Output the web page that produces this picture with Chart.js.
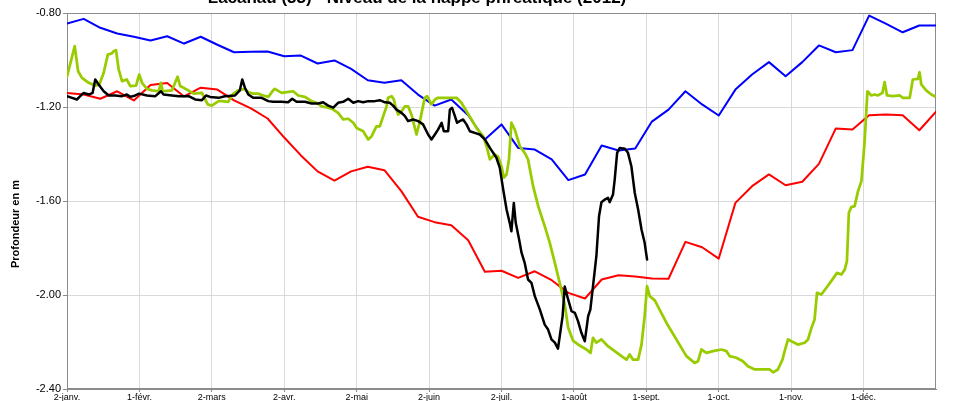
<!DOCTYPE html>
<html>
<head>
<meta charset="utf-8">
<script src="https://cdn.jsdelivr.net/npm/chart.js@4.4.1/dist/chart.umd.min.js"></script>
<style>
  html, body { margin: 0; padding: 0; background: #ffffff; }
  #wrap { width: 954px; height: 401px; position: relative; }
</style>
</head>
<body>
<div id="wrap"><canvas id="c" width="954" height="401"></canvas></div>
<script>
// ---- tick labels (one every 30 days on a day axis) ----
const tickLabels = ["2-janv.", "1-févr.", "2-mars", "2-avr.", "2-mai", "2-juin", "2-juil.", "1-août", "1-sept.", "1-oct.", "1-nov.", "1-déc."];
const yTitle = "Profondeur en m";
const chartTitle = "Lacanau (33) - Niveau de la nappe phréatique (2012)";

// ---- weekly series (blue = highest, red = lowest) ----
const weekDays = [0,6.9,13.8,20.8,27.7,34.6,41.5,48.5,55.4,62.3,69.2,76.2,83.1,90,96.9,103.8,110.8,117.7,124.6,131.5,138.5,145.4,152.3,159.2,166.2,173.1,180,186.9,193.8,200.8,207.7,214.6,221.5,228.5,235.4,242.3,249.2,256.2,263.1,270,276.9,283.8,290.8,297.7,304.6,311.5,318.5,325.4,332.3,339.2,346.2,353.1,360];
const blueValues = [-0.845,-0.825,-0.863,-0.887,-0.901,-0.917,-0.899,-0.930,-0.901,-0.935,-0.967,-0.965,-0.964,-0.984,-0.981,-1.015,-1.002,-1.038,-1.086,-1.097,-1.086,-1.147,-1.194,-1.168,-1.235,-1.338,-1.274,-1.374,-1.381,-1.423,-1.511,-1.487,-1.364,-1.385,-1.377,-1.262,-1.211,-1.133,-1.189,-1.236,-1.126,-1.062,-1.009,-1.069,-1.009,-0.938,-0.967,-0.958,-0.811,-0.845,-0.882,-0.853,-0.853];
const redValues = [-1.140,-1.147,-1.165,-1.133,-1.172,-1.106,-1.098,-1.155,-1.118,-1.126,-1.172,-1.206,-1.249,-1.330,-1.406,-1.474,-1.513,-1.474,-1.454,-1.469,-1.558,-1.667,-1.690,-1.703,-1.767,-1.901,-1.897,-1.927,-1.899,-1.937,-1.991,-2.015,-1.934,-1.916,-1.921,-1.930,-1.931,-1.774,-1.797,-1.845,-1.608,-1.537,-1.487,-1.533,-1.518,-1.442,-1.291,-1.296,-1.235,-1.232,-1.235,-1.299,-1.220];

// ---- green series (daily, sampled) ----
const greenDays = [0.0,3.2,4.6,6.2,9.0,11.7,13.4,15.2,16.9,18.6,19.3,20.3,21.4,22.8,24.8,26.2,28.6,29.9,31.1,33.1,35.2,38.0,38.9,39.6,43.5,45.8,46.9,49.7,52.5,55.9,58.3,60.0,62.8,64.1,66.8,68.9,70.9,73.7,75.1,77.1,79.2,81.3,83.4,85.4,86.1,88.9,91.0,93.7,95.8,98.6,101.3,103.4,105.5,108.2,110.3,112.3,114.4,116.5,118.6,120.0,122.7,124.8,126.2,127.5,128.2,129.6,131.0,132.4,133.0,134.5,135.4,136.2,137.2,138.6,140.0,141.3,142.7,144.1,144.8,146.2,146.9,148.2,149.2,151.0,152.4,153.7,161.4,163.4,165.5,167.6,169.6,172.4,173.8,175.2,177.2,178.6,180.0,181.0,182.1,183.1,184.1,185.5,187.6,189.6,191.0,193.1,195.2,197.9,200.0,202.1,204.1,206.2,207.6,209.6,212.4,215.2,216.9,217.9,219.3,221.4,224.1,226.9,229.7,231.8,233.1,234.5,236.6,238.0,239.3,240.3,241.4,243.5,245.5,248.3,256.6,260.0,261.4,262.8,264.9,267.6,271.1,273.2,274.5,277.3,280.0,282.1,284.9,291.1,292.5,294.5,296.4,297.3,298.7,300.1,302.8,305.6,307.0,308.4,309.7,310.7,312.5,314.6,316.6,319.0,320.8,322.2,323.1,323.9,324.9,326.3,327.7,329.1,330.4,331.6,333.2,334.6,335.9,337.8,338.7,339.7,342.2,344.9,346.3,349.1,350.4,352.5,353.2,353.9,356.0,358.1,359.4];
const greenValues = [-1.071,-0.941,-1.048,-1.076,-1.097,-1.109,-1.104,-1.054,-0.977,-0.972,-0.963,-0.958,-1.040,-1.090,-1.083,-1.111,-1.109,-1.062,-1.097,-1.123,-1.129,-1.133,-1.097,-1.133,-1.129,-1.071,-1.111,-1.126,-1.143,-1.140,-1.189,-1.194,-1.175,-1.175,-1.178,-1.143,-1.129,-1.123,-1.137,-1.143,-1.143,-1.151,-1.157,-1.129,-1.123,-1.140,-1.137,-1.133,-1.151,-1.157,-1.175,-1.182,-1.197,-1.203,-1.211,-1.225,-1.253,-1.250,-1.267,-1.289,-1.303,-1.338,-1.324,-1.296,-1.282,-1.282,-1.239,-1.197,-1.161,-1.154,-1.168,-1.203,-1.232,-1.218,-1.197,-1.197,-1.232,-1.289,-1.317,-1.260,-1.225,-1.161,-1.154,-1.189,-1.168,-1.161,-1.161,-1.182,-1.218,-1.253,-1.289,-1.324,-1.367,-1.423,-1.402,-1.411,-1.452,-1.501,-1.487,-1.423,-1.267,-1.296,-1.367,-1.395,-1.423,-1.537,-1.622,-1.707,-1.778,-1.863,-1.948,-2.040,-2.138,-2.194,-2.215,-2.232,-2.246,-2.182,-2.203,-2.189,-2.218,-2.239,-2.260,-2.275,-2.253,-2.275,-2.275,-2.211,-2.090,-1.962,-2.005,-2.023,-2.062,-2.118,-2.260,-2.289,-2.282,-2.232,-2.246,-2.239,-2.232,-2.239,-2.260,-2.267,-2.282,-2.303,-2.317,-2.317,-2.329,-2.317,-2.275,-2.239,-2.189,-2.197,-2.211,-2.203,-2.189,-2.140,-2.104,-1.991,-1.998,-1.969,-1.941,-1.906,-1.913,-1.892,-1.856,-1.650,-1.626,-1.622,-1.558,-1.516,-1.352,-1.133,-1.151,-1.147,-1.151,-1.140,-1.094,-1.151,-1.154,-1.151,-1.161,-1.161,-1.083,-1.080,-1.052,-1.104,-1.130,-1.147,-1.154];

// ---- black series (current year, daily, sampled) ----
const blackDays = [0.0,2.1,4.1,5.5,6.9,9.0,10.6,11.7,13.1,15.2,17.3,20.0,22.8,24.8,26.2,28.3,29.9,33.1,36.6,38.9,40.0,43.5,46.3,50.4,53.1,55.9,57.6,59.3,62.8,65.4,69.6,71.6,72.6,73.7,75.1,77.1,80.6,83.4,85.4,88.9,91.6,93.3,95.1,98.6,101.3,104.1,106.1,108.2,110.3,112.3,114.4,116.5,118.6,120.6,122.7,124.8,127.5,129.6,131.7,133.7,135.1,136.5,138.6,140.0,141.3,143.4,145.5,147.5,149.6,151.0,152.4,153.7,155.2,156.1,157.9,158.6,159.5,160.7,161.6,162.7,164.1,165.5,166.9,168.9,171.0,173.1,175.2,177.9,179.3,180.7,182.1,183.4,184.1,185.1,185.9,187.3,188.3,189.6,191.0,192.4,193.8,195.9,197.9,199.3,200.7,202.1,203.4,205.3,206.2,207.6,209.0,210.4,211.7,213.1,214.5,215.9,216.8,217.9,219.3,220.4,221.4,222.8,224.1,224.8,226.2,226.9,227.9,229.0,231.1,232.4,233.8,235.2,236.6,238.0,239.3,240.3];
const blackValues = [-1.154,-1.161,-1.168,-1.154,-1.140,-1.147,-1.140,-1.083,-1.104,-1.133,-1.151,-1.151,-1.154,-1.147,-1.157,-1.151,-1.143,-1.151,-1.154,-1.133,-1.147,-1.151,-1.154,-1.154,-1.168,-1.171,-1.151,-1.157,-1.161,-1.154,-1.151,-1.129,-1.083,-1.118,-1.147,-1.161,-1.161,-1.175,-1.178,-1.178,-1.180,-1.165,-1.178,-1.178,-1.185,-1.185,-1.180,-1.194,-1.203,-1.182,-1.178,-1.165,-1.182,-1.175,-1.180,-1.175,-1.175,-1.171,-1.180,-1.182,-1.194,-1.211,-1.225,-1.239,-1.260,-1.253,-1.260,-1.274,-1.317,-1.338,-1.317,-1.296,-1.267,-1.303,-1.303,-1.211,-1.203,-1.239,-1.267,-1.260,-1.253,-1.274,-1.303,-1.310,-1.317,-1.338,-1.374,-1.416,-1.459,-1.551,-1.636,-1.693,-1.729,-1.608,-1.693,-1.764,-1.820,-1.863,-1.934,-1.948,-2.005,-2.062,-2.126,-2.147,-2.189,-2.203,-2.228,-2.091,-1.964,-2.019,-2.069,-2.076,-2.111,-2.161,-2.197,-2.090,-2.062,-1.963,-1.835,-1.665,-1.605,-1.594,-1.586,-1.605,-1.572,-1.509,-1.395,-1.374,-1.378,-1.395,-1.452,-1.565,-1.636,-1.721,-1.778,-1.849];

function pts(xs, ys) {
  const n = Math.min(xs.length, ys.length);
  const out = [];
  for (let i = 0; i < n; i++) out.push({ x: xs[i], y: ys[i] });
  return out;
}

const frame = {
  id: 'frame',
  beforeDatasetsDraw(chart) {
    const a = chart.chartArea, ctx = chart.ctx;
    ctx.save();
    ctx.strokeStyle = '#8c8c8c';
    ctx.lineWidth = 1;
    ctx.strokeRect(Math.round(a.left) + 0.5, Math.round(a.top) + 0.5, Math.round(a.right - a.left) - 1, Math.round(a.bottom - a.top) - 1);
    ctx.restore();
  },
  afterDraw(chart) {
    const ctx = chart.ctx;
    ctx.save();
    ctx.fillStyle = '#000';
    ctx.font = 'bold 17px "Liberation Sans", Arial, sans-serif';
    ctx.textAlign = 'center';
    ctx.textBaseline = 'alphabetic';
    ctx.fillText(chartTitle, 417, 3);
    ctx.translate(16, 224);
    ctx.rotate(-Math.PI / 2);
    ctx.font = 'bold 11px "Liberation Sans Narrow", "Liberation Sans", Arial, sans-serif';
    ctx.textBaseline = 'middle';
    ctx.fillText(yTitle, 0, 0);
    ctx.restore();
  }
};

const common = { pointRadius: 0, tension: 0, fill: false, borderCapStyle: 'round', borderJoinStyle: 'round' };

new Chart(document.getElementById('c'), {
  type: 'line',
  data: {
    datasets: [
      Object.assign({ label: 'courant', data: pts(blackDays, blackValues), borderColor: '#000000', borderWidth: 2.5, order: 0 }, common),
      Object.assign({ label: 'vert', data: pts(greenDays, greenValues), borderColor: '#99CC00', borderWidth: 2.75, order: 1 }, common),
      Object.assign({ label: 'min', data: pts(weekDays, redValues), borderColor: '#FF0000', borderWidth: 2, order: 2 }, common),
      Object.assign({ label: 'max', data: pts(weekDays, blueValues), borderColor: '#0000FF', borderWidth: 2, order: 3 }, common)
    ]
  },
  options: {
    responsive: false,
    animation: false,
    devicePixelRatio: 1,
    layout: { padding: { top: 13, right: 18, left: 0, bottom: 0 } },
    plugins: { legend: { display: false }, tooltip: { enabled: false }, title: { display: false } },
    scales: {
      x: {
        type: 'linear',
        min: 0,
        max: 360,
        afterFit(s) { s.height = 12; },
        afterBuildTicks(s) { s.ticks = tickLabels.map((_, i) => ({ value: i * 30 })); },
        ticks: {
          autoSkip: false,
          maxRotation: 0,
          padding: 0,
          color: '#000',
          font: { family: '"Liberation Sans", Arial, sans-serif', size: 9 },
          callback(v) { const i = Math.round(v / 30); return tickLabels[i] || ''; }
        },
        grid: { color: '#d9d9d9', lineWidth: 1, tickLength: 3, tickColor: '#8c8c8c', drawTicks: true },
        border: { display: true, color: '#8c8c8c', width: 1 }
      },
      y: {
        min: -2.4,
        max: -0.8,
        afterFit(s) { s.width = 67; },
        ticks: {
          stepSize: 0.4,
          padding: 2,
          color: '#000',
          font: { family: '"Liberation Sans", Arial, sans-serif', size: 11 },
          callback(v) { return Number(v).toFixed(2); }
        },
        grid: { color: '#d9d9d9', lineWidth: 1, tickLength: 4, tickColor: '#8c8c8c' },
        border: { display: true, color: '#8c8c8c', width: 1 }
      }
    }
  },
  plugins: [frame]
});
</script>
</body>
</html>
